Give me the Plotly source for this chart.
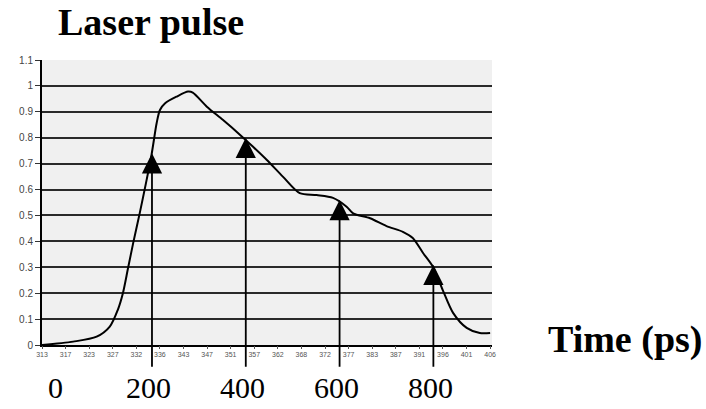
import plotly.graph_objects as go

# Pulse intensity profile (normalised) versus time in ps
time_ps = [-35, 32, 82, 110, 127, 138, 149, 160, 174, 199, 210, 217, 228, 253, 277, 287,
           317, 351, 388, 415, 445, 479, 515, 551, 586, 615, 629, 665, 700, 735, 756,
           778, 799, 820, 842, 871, 899, 921]
intensity = [0.0, 0.013, 0.032, 0.071, 0.135, 0.20, 0.297, 0.394, 0.51, 0.734, 0.857, 0.907,
             0.933, 0.959, 0.978, 0.974, 0.92, 0.869, 0.811, 0.766, 0.714, 0.65, 0.586,
             0.579, 0.568, 0.534, 0.508, 0.489, 0.459, 0.437, 0.413, 0.355, 0.302, 0.212,
             0.124, 0.066, 0.046, 0.046]

# Sampling instants marked by arrows, and the pulse level each arrow points at
arrow_times = [200, 400, 600, 800]
arrow_levels = [0.74, 0.80, 0.56, 0.31]
arrow_base = -0.09

# Bold time labels below the axis
time_labels = [0, 200, 400, 600, 800]

# Small instrument tick labels along the horizontal axis
raw_ticks = ["313", "317", "323", "327", "332", "336", "343", "347", "351", "357",
             "362", "368", "372", "377", "383", "387", "391", "396", "401", "406"]

y_ticks = [0, 0.1, 0.2, 0.3, 0.4, 0.5, 0.6, 0.7, 0.8, 0.9, 1.0, 1.1]
y_text = ["0", "0.1", "0.2", "0.3", "0.4", "0.5", "0.6", "0.7", "0.8", "0.9", "1", "1.1"]

fig = go.Figure()
fig.add_trace(go.Scatter(
    x=time_ps, y=intensity, mode="lines",
    line=dict(color="black", width=2, shape="spline", smoothing=0.8),
    hoverinfo="skip", showlegend=False,
))
# Invisible carrier so the secondary (instrument) axis is drawn
fig.add_trace(go.Scatter(
    x=list(range(len(raw_ticks))), y=[0] * len(raw_ticks), xaxis="x2",
    mode="markers", marker=dict(opacity=0), hoverinfo="skip", showlegend=False,
))

annotations = []
for t, lvl in zip(arrow_times, arrow_levels):
    annotations.append(dict(
        x=t, y=lvl, xref="x", yref="y",
        ax=t, ay=arrow_base, axref="x", ayref="y",
        text="", showarrow=True, arrowhead=2, arrowsize=2.25,
        arrowwidth=1.8, arrowcolor="black",
    ))

for t in time_labels:
    annotations.append(dict(
        x=t, y=-0.15, xref="x", yref="paper", xshift=-3,
        text=str(t), showarrow=False, xanchor="center", yanchor="middle",
        font=dict(family="Liberation Serif", size=30, color="black"),
    ))

annotations.append(dict(
    x=0.031, y=1.135, xref="paper", yref="paper",
    text="<b>Laser pulse</b>", showarrow=False, xanchor="left", yanchor="middle",
    font=dict(family="Liberation Serif", size=38, color="black"),
))
annotations.append(dict(
    x=1.12, y=0.02, xref="paper", yref="paper",
    text="<b>Time (ps)</b>", showarrow=False, xanchor="left", yanchor="middle",
    font=dict(family="Liberation Serif", size=38, color="black"),
))

fig.update_layout(
    width=706, height=409,
    margin=dict(l=42, r=214, t=60, b=64),
    paper_bgcolor="white", plot_bgcolor="#f0f0f0",
    showlegend=False,
    annotations=annotations,
    xaxis=dict(
        range=[-34.5, 925], showgrid=False, zeroline=False,
        showticklabels=False, ticks="",
        showline=True, linecolor="black", linewidth=2,
    ),
    xaxis2=dict(
        overlaying="x", anchor="y", side="bottom",
        range=[0, 19.08], tickmode="array",
        tickvals=list(range(len(raw_ticks))), ticktext=raw_ticks,
        ticks="outside", ticklen=3, tickcolor="#555",
        tickfont=dict(family="Liberation Sans", size=7, color="#555"),
        showgrid=False, zeroline=False, showline=False,
    ),
    yaxis=dict(
        range=[0, 1.1], tickmode="array", tickvals=y_ticks, ticktext=y_text,
        ticks="outside", ticklen=5, tickcolor="#333",
        tickfont=dict(family="Liberation Sans", size=10, color="#444"),
        showgrid=True, gridcolor="#2a2a2a", gridwidth=1.8,
        zeroline=False, showline=True, linecolor="black", linewidth=2,
    ),
)

fig.write_html("out.html")
